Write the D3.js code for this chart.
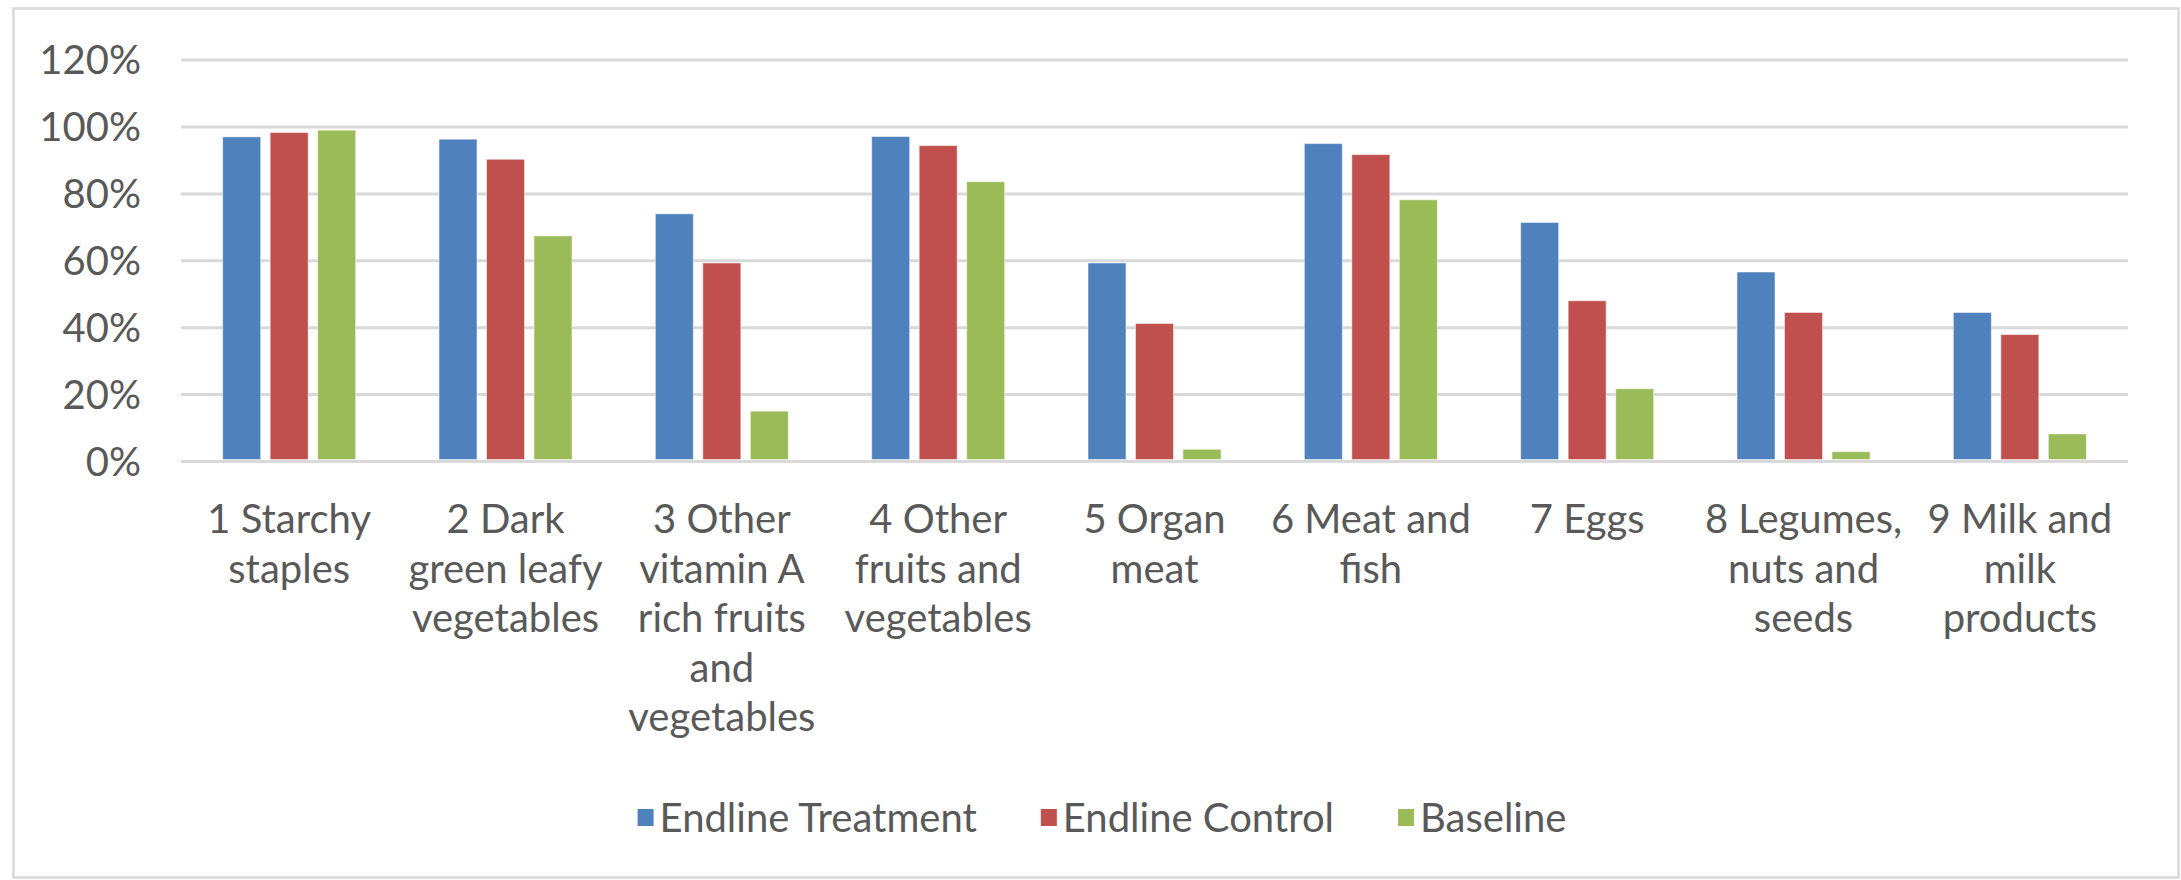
<!DOCTYPE html>
<html>
<head>
<meta charset="utf-8">
<script src="https://cdn.jsdelivr.net/npm/d3@7"></script>
<style>
  html, body { margin: 0; padding: 0; background: #fff; }
  svg text { font-family: Lato, "Open Sans", sans-serif; fill: #595959; }
</style>
</head>
<body>
<svg id="chart" width="2181" height="880"></svg>
<script>
const categories = [
  "1 Starchy\nstaples",
  "2 Dark\ngreen leafy\nvegetables",
  "3 Other\nvitamin A\nrich fruits\nand\nvegetables",
  "4 Other\nfruits and\nvegetables",
  "5 Organ\nmeat",
  "6 Meat and\nfish",
  "7 Eggs",
  "8 Legumes,\nnuts and\nseeds",
  "9 Milk and\nmilk\nproducts"
];
const seriesNames = ["Endline Treatment", "Endline Control", "Baseline"];
const endlineTreatment = [0.969, 0.962, 0.739, 0.970, 0.592, 0.949, 0.713, 0.565, 0.444];
const endlineControl   = [0.982, 0.902, 0.592, 0.943, 0.411, 0.916, 0.479, 0.444, 0.378];
const baseline         = [0.989, 0.673, 0.149, 0.835, 0.035, 0.781, 0.216, 0.028, 0.081];
const yTicks = [0, 0.2, 0.4, 0.6, 0.8, 1.0, 1.2];
const colors = ["#4f81bd", "#c0504d", "#9bbb59"];

const seriesValues = [endlineTreatment, endlineControl, baseline];
const svg = d3.select("#chart");

// chart border
svg.append("rect")
  .attr("x", 13.5).attr("y", 8.5)
  .attr("width", 2165).attr("height", 869)
  .attr("fill", "#fff").attr("stroke", "#d9d9d9").attr("stroke-width", 2.5);

const plot = { left: 181, right: 2128, top: 126.5 - (461 - 126.5) / 5, bottom: 461 };

const y = d3.scaleLinear().domain([0, 1.2]).range([plot.bottom, plot.top]);
const x0 = d3.scaleBand().domain(categories).range([plot.left, plot.right]).padding(0);
const bw = x0.bandwidth();
const x1 = d3.scaleBand().domain(seriesNames)
  .range([bw / 2 - 71.25, bw / 2 + 71.25]).paddingInner(0.2).paddingOuter(0.1);
const color = d3.scaleOrdinal().domain(seriesNames).range(colors);

// gridlines
const yAxis = d3.axisLeft(y).tickValues(yTicks)
  .tickSize(-(plot.right - plot.left)).tickPadding(40)
  .tickFormat(d3.format(".0%"));
const gy = svg.append("g").attr("transform", `translate(${plot.left},0)`).call(yAxis);
gy.select(".domain").remove();
gy.selectAll(".tick line").attr("stroke", "#d9d9d9").attr("stroke-width", 3);
gy.selectAll(".tick text").attr("font-size", 40).attr("fill", "#595959")
  .style("font-family", "Lato, 'Open Sans', sans-serif").attr("dy", "0.35em");

// bars
const data = categories.map((c, i) => ({ cat: c, vals: seriesNames.map((s, j) => ({ s, v: seriesValues[j][i] })) }));
const groups = svg.append("g").selectAll("g").data(data).join("g")
  .attr("transform", d => `translate(${x0(d.cat)},0)`);
groups.selectAll("rect").data(d => d.vals).join("rect")
  .attr("x", d => x1(d.s))
  .attr("y", d => y(d.v))
  .attr("width", x1.bandwidth())
  .attr("height", d => y(0) - y(d.v) - 1.5)
  .attr("fill", d => color(d.s))
  .attr("stroke", "#ffffff").attr("stroke-opacity", 0.5).attr("stroke-width", 1);

// category labels
const xAxis = d3.axisBottom(x0).tickSize(0).tickPadding(0).tickFormat("");
const gx = svg.append("g").attr("transform", `translate(0,${plot.bottom})`).call(xAxis);
gx.select(".domain").remove();
gx.selectAll(".tick").each(function(d) {
  const t = d3.select(this).append("text")
    .attr("text-anchor", "middle").attr("font-size", 40).attr("fill", "#595959")
    .style("font-family", "Lato, 'Open Sans', sans-serif");
  d.split("\n").forEach((line, k) => {
    t.append("tspan").attr("x", 0).attr("y", 72 + k * 49.5).text(line);
  });
});

// legend
const legend = svg.append("g");
let lx = 0;
const items = [];
seriesNames.forEach((s, i) => {
  const g = legend.append("g");
  g.append("rect").attr("x", 0).attr("y", -9).attr("width", 16).attr("height", 17).attr("fill", colors[i]);
  const t = g.append("text").attr("x", 22).attr("y", 0).attr("dy", "0.35em")
    .attr("font-size", 40).text(s);
  const w = 22 + t.node().getComputedTextLength();
  g.attr("transform", `translate(${lx},0)`);
  lx += w + 64;
});
const totalW = lx - 64;
legend.attr("transform", `translate(${1102 - totalW / 2},818)`);
</script>
</body>
</html>
